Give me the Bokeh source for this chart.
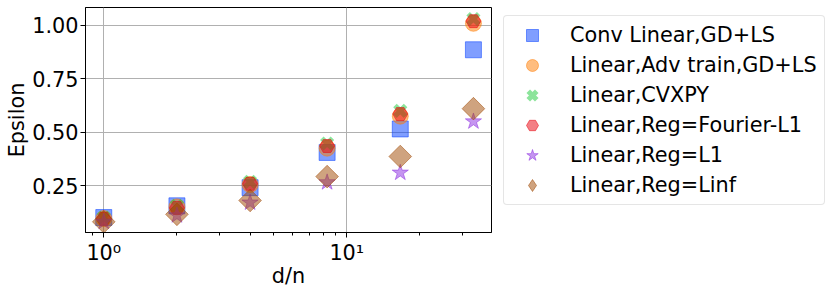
import math
from bokeh.plotting import figure
from bokeh.models import FixedTicker, Legend, LegendItem, Range1d, NumeralTickFormatter
from bokeh.embed import file_html
from bokeh.resources import INLINE

# data
d_over_n = [1, 2, 4, 8.3, 16.6, 33.2]
conv_linear_gdls = [0.100, 0.155, 0.240, 0.405, 0.515, 0.886]
linear_adv_train = [0.095, 0.150, 0.255, 0.425, 0.575, 1.010]
linear_cvxpy = [0.100, 0.155, 0.267, 0.447, 0.600, 1.030]
linear_reg_fourier_l1 = [0.094, 0.145, 0.258, 0.435, 0.585, 1.020]
linear_reg_l1 = [0.080, 0.110, 0.170, 0.265, 0.310, 0.550]
linear_reg_linf = [0.080, 0.115, 0.180, 0.292, 0.386, 0.610]
labels = ["Conv Linear,GD+LS", "Linear,Adv train,GD+LS", "Linear,CVXPY",
          "Linear,Reg=Fourier-L1", "Linear,Reg=L1", "Linear,Reg=Linf"]
y_ticks = [0.25, 0.50, 0.75, 1.00]
x_ticks = [1, 10]
x_tick_labels = {1: "10\u2070", 10: "10\u00b9"}
x_minor = [0.9, 2, 3, 4, 5, 6, 7, 8, 9, 20, 30]

colors = ["#023eff", "#ff7c00", "#1ac938", "#e8000b", "#8b2be2", "#9f4800"]
FONT = "DejaVu Sans"
FS = "20.8px"

p = figure(output_backend="svg", toolbar_location=None, x_axis_type="log",
           frame_width=406, frame_height=225,
           x_range=Range1d(0.841, 39.4), y_range=Range1d(0.03, 1.084),
           min_border_left=85, min_border_right=332, min_border_top=7, min_border_bottom=0)

common = dict(fill_alpha=0.5, line_alpha=0.5)
r1 = p.scatter(d_over_n, conv_linear_gdls, marker="square", size=16,
               fill_color=colors[0], line_color=colors[0], **common)
r2 = p.scatter(d_over_n, linear_adv_train, marker="circle", size=16,
               fill_color=colors[1], line_color=colors[1], **common)
r3 = p.scatter(d_over_n, linear_cvxpy, marker="x", size=15, line_width=5,
               line_color=colors[2], line_alpha=0.5)
r4 = p.scatter(d_over_n, linear_reg_fourier_l1, marker="hex", size=15,
               fill_color=colors[3], line_color=colors[3], **common)
r5 = p.scatter(d_over_n, linear_reg_l1, marker="star", size=17,
               fill_color=colors[4], line_color=colors[4], **common)
r6 = p.scatter(d_over_n, linear_reg_linf, marker="square", size=16, angle=math.pi / 4,
               fill_color=colors[5], line_color=colors[5], **common)
# hidden twin of the Linf series, used only for its legend glyph (diamond shape)
r6_leg = p.scatter(d_over_n, linear_reg_linf, marker="diamond", size=16,
                   fill_color=colors[5], line_color=colors[5], visible=False, **common)

rs = [r1, r2, r3, r4, r5, r6_leg]
legend = Legend(items=[LegendItem(label=l, renderers=[r]) for l, r in zip(labels, rs)],
                location=(12, 27), margin=0, padding=4, spacing=0,
                glyph_width=48, glyph_height=30, label_standoff=14, label_width=250,
                label_height=30,
                label_text_font=FONT, label_text_font_size=FS, label_text_color="black",
                border_line_color="#cccccc", border_line_width=1, border_radius=4,
                background_fill_color="white", background_fill_alpha=0.8)
p.add_layout(legend, "right")

p.xaxis.ticker = FixedTicker(ticks=x_ticks, minor_ticks=x_minor)
p.xaxis.major_label_overrides = x_tick_labels
p.yaxis.ticker = FixedTicker(ticks=y_ticks)
p.yaxis.formatter = NumeralTickFormatter(format="0.00")

p.xaxis.axis_label = "d/n"
p.yaxis.axis_label = "Epsilon"
for ax in (p.xaxis, p.yaxis):
    ax.axis_label_text_font = FONT
    ax.axis_label_text_font_size = FS
    ax.axis_label_text_font_style = "normal"
    ax.axis_label_text_color = "black"
    ax.major_label_text_font = FONT
    ax.major_label_text_font_size = FS
    ax.major_label_text_color = "black"
    ax.major_tick_out = 5
    ax.major_tick_in = 0
    ax.minor_tick_out = 3
    ax.minor_tick_in = 0
    ax.major_tick_line_color = "black"
    ax.minor_tick_line_color = "black"
    ax.axis_line_color = "black"
p.yaxis.minor_tick_line_color = None
p.yaxis.major_label_standoff = 2
p.yaxis.axis_label_standoff = 0
p.xaxis.major_label_standoff = 3
p.xaxis.axis_label_standoff = -4

p.xgrid.grid_line_color = "#b0b0b0"
p.ygrid.grid_line_color = "#b0b0b0"
p.xgrid.grid_line_width = 1
p.ygrid.grid_line_width = 1
p.outline_line_color = "black"
p.outline_line_width = 1
p.background_fill_color = "white"

open("out.html", "w").write(file_html(p, INLINE))
